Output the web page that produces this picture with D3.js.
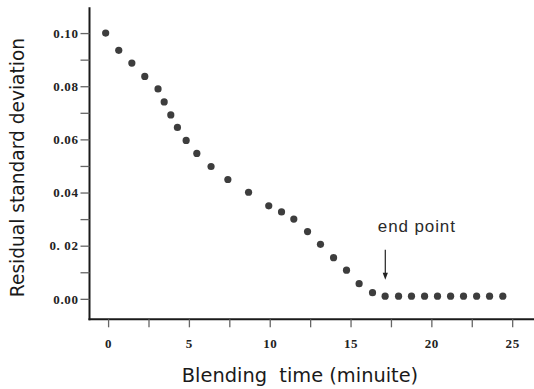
<!DOCTYPE html>
<html>
<head>
<meta charset="utf-8">
<script src="https://cdn.jsdelivr.net/npm/d3@7"></script>
<style>
  html, body { margin: 0; padding: 0; background: #fff; }
  svg { display: block; }
</style>
</head>
<body>
<svg id="chart" width="534" height="389"></svg>
<script>
// ---- data ----
const blendTime = [-0.15, 0.66, 1.47, 2.27, 3.09, 3.47, 3.88, 4.29, 4.83, 5.49, 6.37, 7.41, 8.69,
  9.94, 10.73, 11.49, 12.34, 13.14, 13.95, 14.75, 15.53, 16.36, 17.14, 17.97, 18.77, 19.58,
  20.38, 21.19, 21.99, 22.80, 23.60, 24.42];
const residualSD = [0.1000, 0.0935, 0.0887, 0.0837, 0.0790, 0.0741, 0.0692, 0.0645, 0.0596, 0.0547,
  0.0498, 0.0449, 0.0401, 0.0350, 0.0327, 0.0300, 0.0253, 0.0205, 0.0155, 0.0108, 0.0057, 0.0023,
  0.0010, 0.0010, 0.0010, 0.0010, 0.0010, 0.0010, 0.0010, 0.0010, 0.0010, 0.0010];
const xTicks = [0, 5, 10, 15, 20, 25];
const xTickLabels = ["0", "5", "10", "15", "20", "25"];
const xMinorTicks = [2.5, 7.5, 12.5, 17.5, 22.5];
const yTicks = [0, 0.02, 0.04, 0.06, 0.08, 0.10];
const yTickLabels = ["0.00", "0. 02", "0.04", "0.06", "0.08", "0.10"];
const yMinorTicks = [0.01, 0.03, 0.05, 0.07, 0.09];
const xTitle = "Blending  time (minuite)";
const yTitle = "Residual standard deviation";
const annotationText = "end point";
const annotationX = 17.15;       // blending time of the end point
const arrowFrom = 0.0185, arrowTo = 0.0072;
const annotationLabelX = 19.1, annotationLabelY = 0.0252;

// ---- scales ----
const svg = d3.select("#chart");
const x = d3.scaleLinear().domain([-1.15, 26.35]).range([89.5, 534]);
const y = d3.scaleLinear().domain([-0.0077, 0.1097]).range([319.3, 7.3]);
const x0 = 89.5, yBase = 319.3;

const tickFont = "'Liberation Serif', 'Times New Roman', serif";
const titleFont = "'DejaVu Sans', sans-serif";

// x axis
const xAxis = svg.append("g").attr("transform", `translate(0,${yBase})`)
  .call(d3.axisBottom(x).tickValues(xTicks).tickSize(8).tickSizeOuter(0).tickPadding(11)
    .tickFormat((d, i) => xTickLabels[i]));
svg.append("g").attr("transform", `translate(0,${yBase})`)
  .call(d3.axisBottom(x).tickValues(xMinorTicks).tickSize(8).tickSizeOuter(0).tickFormat(""))
  .call(g => g.select(".domain").remove());

// y axis
const yAxis = svg.append("g").attr("transform", `translate(${x0},0)`)
  .call(d3.axisLeft(y).tickValues(yTicks).tickSize(9).tickSizeOuter(0).tickPadding(2)
    .tickFormat((d, i) => yTickLabels[i]));
svg.append("g").attr("transform", `translate(${x0},0)`)
  .call(d3.axisLeft(y).tickValues(yMinorTicks).tickSize(9).tickSizeOuter(0).tickFormat(""))
  .call(g => g.select(".domain").remove());

svg.selectAll(".domain").attr("stroke", "#1a1a1a").attr("stroke-width", 2);
svg.selectAll(".tick line").attr("stroke", "#666").attr("stroke-width", 1.3);
svg.selectAll(".tick text")
  .attr("font-family", tickFont).attr("font-weight", "bold").attr("font-size", 13)
  .attr("letter-spacing", 0.6).attr("fill", "#222");

// extend x axis domain so it meets the y axis corner exactly
xAxis.select(".domain").attr("d", `M${x0 - 1},0H${x.range()[1]}`);
yAxis.select(".domain").attr("d", `M0,${y.range()[1]}V${yBase - y.range()[0] + yBase - yBase + 0}`)
  .attr("d", `M0,${y.range()[1]}V${y.range()[0] + 1}`);

// points
svg.append("g").selectAll("circle")
  .data(blendTime.map((t, i) => [t, residualSD[i]]))
  .join("circle")
  .attr("cx", d => x(d[0]))
  .attr("cy", d => y(d[1]))
  .attr("r", 3.6)
  .attr("fill", "#3d3d3d");

// annotation
const ax = x(annotationX);
svg.append("line")
  .attr("x1", ax).attr("x2", ax)
  .attr("y1", y(arrowFrom)).attr("y2", y(arrowTo) - 5)
  .attr("stroke", "#222").attr("stroke-width", 1.2);
svg.append("path")
  .attr("d", `M${ax - 2.6},${y(arrowTo) - 7}L${ax + 2.6},${y(arrowTo) - 7}L${ax},${y(arrowTo)}Z`)
  .attr("fill", "#222");
svg.append("text")
  .attr("x", x(annotationLabelX)).attr("y", y(annotationLabelY))
  .attr("text-anchor", "middle")
  .attr("font-family", "'Liberation Sans', Arial, sans-serif")
  .attr("font-size", 17).attr("letter-spacing", 0.9)
  .attr("fill", "#2a2a2a")
  .text(annotationText);

// axis titles
svg.append("text")
  .attr("x", 300).attr("y", 382)
  .attr("text-anchor", "middle")
  .attr("font-family", titleFont).attr("font-size", 19.4)
  .attr("fill", "#1a1a1a")
  .style("white-space", "pre")
  .text(xTitle);
svg.append("text")
  .attr("transform", "translate(23.5,167.5) rotate(-90)")
  .attr("text-anchor", "middle")
  .attr("font-family", titleFont).attr("font-size", 18.6)
  .attr("fill", "#1a1a1a")
  .text(yTitle);
</script>
</body>
</html>
